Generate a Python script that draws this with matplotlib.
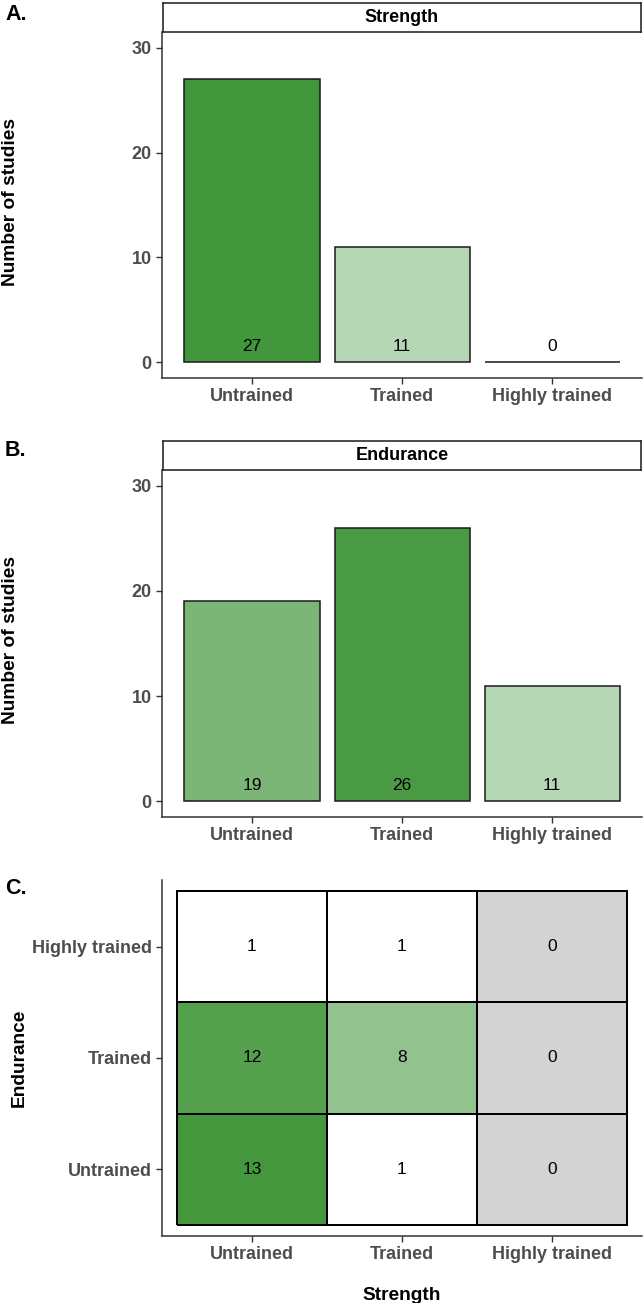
import numpy as np
import matplotlib
matplotlib.use('Agg')
import matplotlib.pyplot as plt
from matplotlib.colors import LinearSegmentedColormap, Normalize

levels = ['Untrained', 'Trained', 'Highly trained']
strength_counts = [27, 11, 0]
endurance_counts = [19, 26, 11]
# panel C: one list per endurance level, values across strength levels
cross_untrained = [13, 1, 0]
cross_trained = [12, 8, 0]
cross_highly = [1, 1, 0]

plt.rcParams['font.family'] = ['Liberation Sans', 'DejaVu Sans']

W, H = 644, 1303
fig = plt.figure(figsize=(W / 100, H / 100), dpi=100)


def box(x0, y0, x1, y1):
    # pixel box (origin top-left) -> figure fraction rect
    return [x0 / W, 1 - y1 / H, (x1 - x0) / W, (y1 - y0) / H]


green = LinearSegmentedColormap.from_list('wg', ['#FFFFFF', '#42963B'])
green.set_under('#FFFFFF')
bar_norm = Normalize(1, max(strength_counts + endurance_counts))


def style_axis(ax):
    for s in ['top', 'right']:
        ax.spines[s].set_visible(False)
    for s in ['left', 'bottom']:
        ax.spines[s].set_color('#333333')
        ax.spines[s].set_linewidth(1.1)
    ax.tick_params(colors='#333333', length=4, width=1.0,
                   labelcolor='#4D4D4D', labelsize=13)
    for lab in ax.get_xticklabels() + ax.get_yticklabels():
        lab.set_fontweight('bold')


def strip(rect, text):
    s = fig.add_axes(rect)
    s.set_xticks([])
    s.set_yticks([])
    for sp in s.spines.values():
        sp.set_linewidth(1.1)
        sp.set_color('#1A1A1A')
    s.text(0.5, 0.5, text, ha='center', va='center', fontsize=13,
           fontweight='bold', transform=s.transAxes)


def pltbar(rect, strip_rect, counts, title):
    ax = fig.add_axes(rect)
    index = np.arange(1, len(levels) + 1)
    ax.bar(index, counts, 0.9, color=green(bar_norm(counts)),
           edgecolor='#1A1A1A', linewidth=1.1)
    for x, y in zip(index, counts):
        ax.text(x, 1.5, y, ha='center', va='center', fontsize=12.5)
    ax.set_xlim(0.4, 3.6)
    ax.set_ylim(-1.5, 31.5)
    ax.set_xticks(index)
    ax.set_xticklabels(levels)
    ax.set_yticks([0, 10, 20, 30])
    style_axis(ax)
    strip(strip_rect, title)
    return ax


# A. strength
pltbar(box(162, 32, 642, 378), box(163, 3, 641, 32), strength_counts, 'Strength')
fig.text(5 / W, 1 - 15 / H, 'A.', fontsize=15.5, fontweight='bold', va='center')
fig.text(11 / W, 1 - 202 / H, 'Number of studies', rotation=90,
         fontsize=13.8, fontweight='bold', ha='center', va='center')

# B. endurance
pltbar(box(162, 470, 642, 817), box(163, 441, 641, 470), endurance_counts, 'Endurance')
fig.text(5 / W, 1 - 451 / H, 'B.', fontsize=15.5, fontweight='bold', va='center')
fig.text(11 / W, 1 - 640 / H, 'Number of studies', rotation=90,
         fontsize=13.8, fontweight='bold', ha='center', va='center')

# C. cross table
ax = fig.add_axes(box(162, 880, 642, 1236))
grid = np.array([cross_untrained, cross_trained, cross_highly])
masked = np.ma.masked_equal(grid, 0)
cmap = LinearSegmentedColormap.from_list('wg2', ['#FFFFFF', '#45973D'])
cmap.set_bad('#D3D3D3')
edges = np.arange(0.5, len(levels) + 1)
ax.pcolormesh(edges, edges, masked, cmap=cmap, norm=Normalize(1, grid.max()),
              edgecolors='black', linewidth=1.4)
for i in range(grid.shape[0]):
    for j in range(grid.shape[1]):
        ax.text(j + 1, i + 1, grid[i, j], ha='center', va='center', fontsize=12.5)
ax.set_xlim(0.4, 3.6)
ax.set_ylim(0.4, 3.6)
ax.set_xticks(np.arange(1, 4))
ax.set_xticklabels(levels)
ax.set_yticks(np.arange(1, 4))
ax.set_yticklabels(levels)
style_axis(ax)
ax.set_xlabel('Strength', fontsize=13.8, fontweight='bold', labelpad=17)
fig.text(19 / W, 1 - 1058 / H, 'Endurance', rotation=90,
         fontsize=13.8, fontweight='bold', ha='center', va='center')
fig.text(5 / W, 1 - 888 / H, 'C.', fontsize=15.5, fontweight='bold', va='center')

fig.savefig('out.png', dpi=100)
